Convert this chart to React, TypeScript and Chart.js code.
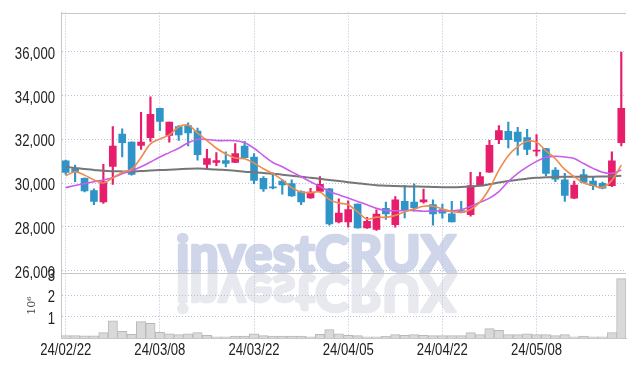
import React, { useEffect, useRef } from 'react';
import { Chart, registerables } from 'chart.js';

Chart.register(...registerables);

const dates = [
  '24/02/22', '24/02/23', '24/02/26', '24/02/27', '24/02/28', '24/02/29', '24/03/04', '24/03/05', '24/03/06', '24/03/07',
  '24/03/08', '24/03/11', '24/03/12', '24/03/13', '24/03/14', '24/03/15', '24/03/18', '24/03/19', '24/03/20', '24/03/21',
  '24/03/22', '24/03/25', '24/03/26', '24/03/27', '24/03/28', '24/03/29', '24/04/01', '24/04/02', '24/04/03', '24/04/04',
  '24/04/05', '24/04/08', '24/04/09', '24/04/11', '24/04/12', '24/04/15', '24/04/16', '24/04/17', '24/04/18', '24/04/19',
  '24/04/22', '24/04/23', '24/04/24', '24/04/25', '24/04/26', '24/04/29', '24/04/30', '24/05/02', '24/05/03', '24/05/07',
  '24/05/08', '24/05/09', '24/05/10', '24/05/13', '24/05/14', '24/05/16', '24/05/17', '24/05/20', '24/05/21', '24/05/22',
];

const opens = [
  31020, 30670, 30220, 29660, 29140, 30770, 32250, 31880, 31730, 32080,
  33420, 32180, 32590, 32640, 32380, 30860, 30950, 31040, 30950, 31700,
  31200, 30220, 29830, 30100, 29980, 29620, 29330, 29620, 29740, 28230,
  28230, 29050, 27960, 27890, 28850, 28110, 29170, 29140, 29140, 29020,
  28790, 28600, 28750, 28560, 29920, 30500, 31990, 32370, 32340, 32090,
  31460, 31580, 30600, 30150, 29320, 30400, 30100, 30000, 29890, 31850,
];
const highs = [
  31060, 30830, 30250, 29740, 30860, 32590, 32490, 31890, 33240, 33950,
  33430, 32800, 32640, 32760, 32520, 31550, 31400, 31430, 31810, 31910,
  31360, 30300, 30480, 30150, 30150, 29650, 29770, 30300, 29770, 29290,
  29200, 29060, 28440, 28780, 29140, 29390, 29890, 29970, 29730, 29240,
  29050, 29170, 29170, 30500, 30500, 31960, 32640, 32790, 32560, 32460,
  32220, 31600, 30710, 30450, 30100, 30630, 30300, 30050, 31430, 35990,
];
const lows = [
  30400, 30070, 29600, 29020, 29080, 29950, 31200, 30370, 31550, 31910,
  32400, 31880, 31960, 31700, 31050, 30650, 30800, 30750, 30940, 31170,
  29980, 29620, 29740, 29500, 29400, 29020, 29310, 29600, 28080, 28190,
  27990, 27940, 27930, 27840, 28340, 27990, 28410, 28720, 29090, 28080,
  28400, 28230, 28640, 28490, 29900, 30490, 31810, 31610, 31280, 31310,
  31250, 30350, 30070, 29170, 29290, 30020, 29700, 29740, 29840, 31700,
];
const closes = [
  30490, 30520, 29650, 29170, 30070, 31700, 31850, 30400, 31880, 33150,
  32830, 32790, 32210, 32300, 31310, 31130, 31040, 30900, 31360, 31170,
  30130, 29740, 29780, 29920, 29420, 29140, 29590, 29950, 28140, 28630,
  28790, 27960, 28260, 28590, 28600, 29240, 28790, 28870, 29240, 28600,
  28630, 28230, 28660, 29890, 30300, 31730, 32410, 31990, 31910, 31550,
  31510, 30450, 30190, 29440, 29920, 30040, 29890, 29770, 31020, 33420,
];
// volume in millions of shares
const volumes = [
  0.11, 0.11, 0.10, 0.10, 0.25, 0.81, 0.31, 0.17, 0.77, 0.69,
  0.27, 0.20, 0.16, 0.20, 0.25, 0.12, 0.06, 0.06, 0.09, 0.09,
  0.20, 0.11, 0.09, 0.09, 0.09, 0.09, 0.06, 0.17, 0.39, 0.20,
  0.12, 0.11, 0.06, 0.06, 0.08, 0.16, 0.12, 0.16, 0.12, 0.11,
  0.11, 0.11, 0.11, 0.25, 0.16, 0.44, 0.36, 0.16, 0.16, 0.20,
  0.16, 0.16, 0.11, 0.16, 0.06, 0.09, 0.06, 0.06, 0.25, 2.78,
];
const ma5 = [
  30340, 30520, 30370, 30150, 30010, 30250, 30490, 30640, 31180, 31800,
  32020, 32210, 32570, 32660, 32290, 31950, 31600, 31340, 31150, 31120,
  30920, 30660, 30440, 30150, 29800, 29600, 29570, 29600, 29250, 29090,
  29020, 28690, 28360, 28450, 28440, 28530, 28700, 28820, 28950, 28950,
  28820, 28710, 28670, 28800, 29140, 29760, 30600, 31260, 31670, 31920,
  31870, 31480, 31120, 30630, 30300, 30010, 29900, 29810, 30130, 30830,
];
const ma20 = [
  29800, 29900, 29990, 30070, 30150, 30250, 30430, 30570, 30750, 30970,
  31200, 31400, 31600, 31850, 32000, 32000, 31950, 31950, 31940, 31850,
  31600, 31260, 30950, 30750, 30520, 30300, 30070, 29850, 29620, 29470,
  29320, 29170, 29020, 28850, 28760, 28740, 28750, 28750, 28720, 28730,
  28730, 28740, 28790, 28940, 29130, 29320, 29620, 30070, 30450, 30750,
  31000, 31190, 31230, 31200, 31130, 30900, 30680, 30500, 30450, 30600,
];
const ma60 = [
  30750, 30700, 30650, 30610, 30570, 30550, 30540, 30530, 30560, 30580,
  30600, 30620, 30640, 30660, 30670, 30650, 30630, 30600, 30570, 30530,
  30500, 30470, 30430, 30390, 30340, 30300, 30250, 30200, 30150, 30100,
  30050, 30000, 29950, 29910, 29890, 29870, 29860, 29850, 29840, 29830,
  29820, 29820, 29830, 29850, 29880, 29950, 30030, 30100, 30160, 30210,
  30250, 30270, 30290, 30300, 30300, 30300, 30300, 30310, 30320, 30340,
];

const priceTicks = [26000, 28000, 30000, 32000, 34000, 36000];
const volumeTicks = [1, 2, 3];
const xLabelEvery = 10;

const UP = '#E61E6C';
const DOWN = '#2F95C9';
const GRID = '#b7bed8';
const FRAME = '#c8c8c8';
const LABEL_FONT = '16px "Liberation Sans", Arial, sans-serif';
const LABEL_SCALE_X = 0.82;

const watermarkPlugin = {
  id: 'watermark',
  beforeDraw(chart: any) {
    const { ctx, chartArea } = chart;
    const yScale = chart.scales.y;
    const text = 'investCRUX';
    ctx.save();
    ctx.font = '900 51px Lato, "DejaVu Sans", sans-serif';
    ctx.textAlign = 'left';
    ctx.textBaseline = 'alphabetic';
    ctx.lineJoin = 'round';
    const w = ctx.measureText(text).width;
    const left = chartArea.left + 115;
    const sx = 280 / w;
    const base = yScale.bottom - 1;
    const paint = (color: string) => {
      ctx.fillStyle = color;
      ctx.strokeStyle = color;
      ctx.lineWidth = 2.6;
      ctx.fillText(text, 0, 0);
      ctx.strokeText(text, 0, 0);
    };
    ctx.save();
    ctx.translate(left, base);
    ctx.scale(sx, 1);
    paint('#d0d6e9');
    ctx.restore();
    ctx.save();
    ctx.translate(left, base + 3);
    ctx.scale(sx, -1);
    paint('#e8e8ef');
    ctx.restore();
    ctx.restore();
  },
};

const framePlugin = {
  id: 'frame',
  beforeDatasetsDraw(chart: any) {
    const { ctx, chartArea } = chart;
    const sep = Math.round(chart.scales.y.bottom) + 0.5;
    ctx.save();
    ctx.strokeStyle = FRAME;
    ctx.lineWidth = 1;
    ctx.beginPath();
    ctx.moveTo(chartArea.left, Math.round(chartArea.top) + 0.5);
    ctx.lineTo(chartArea.right, Math.round(chartArea.top) + 0.5);
    ctx.moveTo(chartArea.left, sep);
    ctx.lineTo(chartArea.right, sep);
    ctx.stroke();
    ctx.restore();
  },
};

// draws the axis tick labels (from the scales' own ticks) in a narrow face
const labelPlugin = {
  id: 'narrowLabels',
  afterDraw(chart: any) {
    const ctx = chart.ctx;
    ctx.save();
    ctx.font = LABEL_FONT;
    ctx.fillStyle = '#222';
    ctx.textBaseline = 'alphabetic';
    ctx.textAlign = 'right';
    for (const id of ['y', 'yv']) {
      const s = chart.scales[id];
      for (const t of s.ticks) {
        if (t.label === null || t.label === undefined || t.label === '') continue;
        const py = s.getPixelForValue(t.value);
        ctx.save();
        ctx.translate(s.right - 6, py + 7);
        ctx.scale(LABEL_SCALE_X, 1);
        ctx.fillText(String(t.label), 0, 0);
        ctx.restore();
      }
    }
    const x = chart.scales.x;
    ctx.textAlign = 'center';
    for (const t of x.ticks) {
      if (t.label === null || t.label === undefined || t.label === '') continue;
      const px = x.getPixelForValue(t.value);
      ctx.save();
      ctx.translate(px, x.top + 17);
      ctx.scale(LABEL_SCALE_X, 1);
      ctx.fillText(String(t.label), 0, 0);
      ctx.restore();
    }
    ctx.restore();
  },
};

export default function App() {
  const ref = useRef<HTMLCanvasElement | null>(null);

  useEffect(() => {
    if (!ref.current) return;
    const colors = opens.map((o, i) => (closes[i] >= o ? UP : DOWN));
    const chart = new Chart(ref.current, {
      type: 'bar',
      data: {
        labels: dates,
        datasets: [
          {
            type: 'line', label: 'MA5', data: ma5, yAxisID: 'y',
            borderColor: '#F08A4C', borderWidth: 1.6, pointRadius: 0, tension: 0.35, order: 0,
          } as any,
          {
            type: 'line', label: 'MA20', data: ma20, yAxisID: 'y',
            borderColor: '#CA5DE8', borderWidth: 1.6, pointRadius: 0, tension: 0.35, order: 0,
          } as any,
          {
            type: 'line', label: 'MA60', data: ma60, yAxisID: 'y',
            borderColor: '#767676', borderWidth: 2, pointRadius: 0, tension: 0.35, order: 0,
          } as any,
          {
            type: 'bar', label: 'body', data: opens.map((o, i) => [o, closes[i]]), yAxisID: 'y',
            backgroundColor: colors, barThickness: 7, minBarLength: 1, grouped: false, order: 1,
          } as any,
          {
            type: 'bar', label: 'wick', data: lows.map((l, i) => [l, highs[i]]), yAxisID: 'y',
            backgroundColor: colors, barThickness: 1.5, grouped: false, order: 2,
          } as any,
          {
            type: 'bar', label: 'volume', data: volumes, yAxisID: 'yv',
            backgroundColor: '#d9d9d9', borderColor: '#b9b9b9', borderWidth: 1,
            barPercentage: 1, categoryPercentage: 1, grouped: false, order: 3,
          } as any,
        ],
      },
      options: {
        responsive: false,
        animation: false,
        events: [],
        layout: { padding: { top: 9, right: 8, left: 0, bottom: 0 } },
        plugins: { legend: { display: false }, tooltip: { enabled: false } },
        scales: {
          x: {
            type: 'category',
            offset: true,
            grid: { offset: false, color: GRID, drawTicks: false, lineWidth: 1 },
            border: { display: true, color: FRAME, dash: [1, 2] },
            ticks: {
              autoSkip: false,
              maxRotation: 0,
              minRotation: 0,
              color: 'rgba(0,0,0,0)',
              font: { size: 16 },
              callback: (_v: any, i: number) => (i % xLabelEvery === 0 ? dates[i] : null),
            },
            afterFit: (s: any) => { s.height = 28; },
          },
          yv: {
            type: 'linear',
            position: 'left',
            stack: 'panels',
            stackWeight: 1,
            min: 0,
            max: 3.05,
            grid: { color: GRID, drawTicks: false },
            border: { display: true, color: FRAME, dash: [1, 2] },
            afterBuildTicks: (s: any) => { s.ticks = volumeTicks.map((v) => ({ value: v })); },
            ticks: {
              autoSkip: false,
              color: 'rgba(0,0,0,0)',
              font: { size: 16 },
              callback: (v: any) => String(v),
            },
            title: {
              display: true,
              text: '10⁶',
              color: '#444',
              font: { family: '"DejaVu Serif", serif', size: 11 },
              padding: { top: 26, bottom: 0 },
            },
            afterFit: (s: any) => { s.width = 61; },
          },
          y: {
            type: 'linear',
            position: 'left',
            stack: 'panels',
            stackWeight: 4,
            min: 25900,
            max: 37800,
            grid: { color: GRID, drawTicks: false },
            border: { display: true, color: FRAME, dash: [1, 2] },
            afterBuildTicks: (s: any) => { s.ticks = priceTicks.map((v) => ({ value: v })); },
            ticks: {
              autoSkip: false,
              color: 'rgba(0,0,0,0)',
              font: { size: 16 },
              callback: (v: any) => Number(v).toLocaleString('en-US'),
            },
            afterFit: (s: any) => { s.width = 61; },
          },
        },
      } as any,
      plugins: [watermarkPlugin, framePlugin, labelPlugin],
    });
    return () => chart.destroy();
  }, []);

  return (
    <div style={{ position: 'absolute', left: 0, top: 0, width: 634, height: 366, background: '#fff' }}>
      <canvas ref={ref} width={634} height={366} style={{ display: 'block' }} />
    </div>
  );
}
